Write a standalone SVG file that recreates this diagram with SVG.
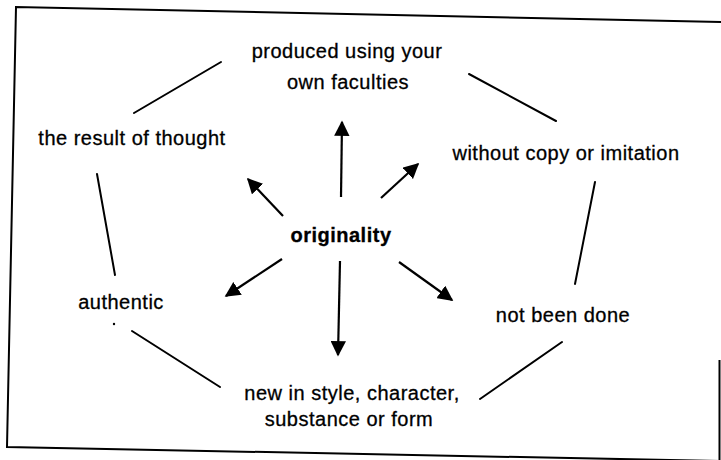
<svg xmlns="http://www.w3.org/2000/svg" width="721" height="460" viewBox="0 0 721 460">
<defs>
<marker id="ah" viewBox="0 0 10 10" refX="9" refY="5" markerWidth="7" markerHeight="7" markerUnits="strokeWidth" orient="auto">
<path d="M0,0 L10,5 L0,10 z" fill="#000"/>
</marker>
<style>
.t{font-family:"Liberation Sans",Arial,sans-serif;font-size:20px;letter-spacing:0.5px;fill:#000;stroke:#000;stroke-width:0.3;text-anchor:middle}
.b{font-weight:bold}
.ln{stroke:#000;stroke-width:2;fill:none;stroke-linecap:round}
.ar{stroke:#000;stroke-width:2.2;fill:none;marker-end:url(#ah)}
.fr{stroke:#000;stroke-width:2;fill:none}
</style>
</defs>
<rect width="721" height="460" fill="#fff"/>
<g id="frame">
<path class="fr" d="M721,22 L16,7 L7,447 L720,461"/>
<line class="fr" x1="719.5" y1="360" x2="719.5" y2="460"/>
<circle cx="114" cy="324" r="1.2" fill="#000"/>
</g>
<g id="connectors">
<line class="ln" x1="134" y1="113" x2="221" y2="62"/>
<line class="ln" x1="469" y1="74" x2="556" y2="121"/>
<line class="ln" x1="97" y1="174" x2="115" y2="275"/>
<line class="ln" x1="595" y1="182" x2="575" y2="284"/>
<line class="ln" x1="132" y1="331" x2="220" y2="387"/>
<line class="ln" x1="480" y1="399" x2="562" y2="342"/>
<line class="ar" x1="341" y1="197" x2="342" y2="122"/>
<line class="ar" x1="283" y1="216" x2="248" y2="179"/>
<line class="ar" x1="381" y1="198" x2="418" y2="164"/>
<line class="ar" x1="282" y1="259" x2="226" y2="296"/>
<line class="ar" x1="340" y1="261" x2="338" y2="355"/>
<line class="ar" x1="399" y1="262" x2="452" y2="300"/>
</g>
<g id="originality"><text class="t b" x="341" y="242">originality</text></g>
<g id="produced"><text class="t" x="347" y="58">produced using your</text><text class="t" x="348" y="89">own faculties</text></g>
<g id="result"><text class="t" x="132" y="145">the result of thought</text></g>
<g id="without"><text class="t" x="566" y="160">without copy or imitation</text></g>
<g id="authentic"><text class="t" x="121" y="309">authentic</text></g>
<g id="notdone"><text class="t" x="563" y="322">not been done</text></g>
<g id="newin"><text class="t" x="352" y="400">new in style, character,</text><text class="t" x="349" y="426">substance or form</text></g>
</svg>
